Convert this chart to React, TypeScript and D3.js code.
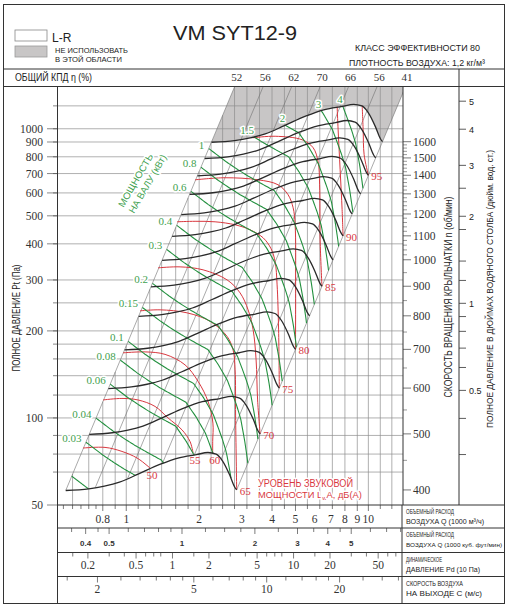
import React from 'react';
import * as d3 from 'd3';

const SERIF = '"Liberation Serif", "DejaVu Serif", serif';
const SANS = '"Liberation Sans", Arial, sans-serif';

// fan curve at 1600 rpm: air flow Q (1000 m3/h), total pressure Pt (Pa)
const baseRpm = 1600;
const baseQ = [2.25, 2.8, 3.25, 3.75, 4.5, 5.5, 6.6, 7.8, 8.7, 9.4, 10.0, 10.7, 11.2, 11.43];
const baseP = [898, 910, 930, 960, 1025, 1105, 1165, 1195, 1215, 1200, 1135, 1015, 925, 902];
const rpmCurves = [400, 500, 600, 700, 800, 900, 1000, 1100, 1200, 1300, 1400, 1500, 1600];

// system lines Pt = k * Q^2 and total efficiency on them
const effK = [178, 103.5, 60.2, 35, 20.4, 11.85, 6.9];
const effPct = [52, 56, 62, 70, 66, 56, 41];

// shaft power lines, kW
const powerKW = [0.02, 0.03, 0.04, 0.06, 0.08, 0.1, 0.15, 0.2, 0.3, 0.4, 0.6, 0.8, 1, 1.5, 2, 3, 4];
const powerLbl = ['', '0.03', '0.04', '0.06', '0.08', '0.1', '0.15', '0.2', '0.3', '0.4', '0.6', '0.8', '1', '1.5', '2', '3', '4'];

// sound power lines LwA, dB(A): [Q, Pt]
const soundDb = [50, 55, 60, 65, 70, 75, 80, 85, 90, 95];
const soundPts: [number, number][][] = [
  [[0.663, 78.7], [0.817, 79.1], [0.96, 76.6], [1.108, 72.7], [1.218, 68.5], [1.254, 67.1]],
  [[0.802, 115.4], [0.96, 116.8], [1.118, 115.4], [1.315, 109.6], [1.488, 100], [1.7, 90.9], [1.834, 82.9], [1.888, 75.7]],
  [[0.97, 167.9], [1.196, 169.2], [1.446, 165.9], [1.749, 152.6], [1.98, 133.8], [2.177, 114], [2.28, 96], [2.275, 83], [2.275, 75.5]],
  [[1.14, 234.6], [1.379, 236.5], [1.783, 230.9], [2.22, 215.8], [2.609, 191.4], [2.762, 171.9], [2.816, 146.6], [2.829, 101.6], [2.858, 56.4]],
  [[1.353, 330.4], [1.668, 333], [2.076, 325.2], [2.609, 300.2], [2.952, 270.7], [3.186, 236.5], [3.342, 201.6], [3.438, 158.7], [3.487, 115.4], [3.572, 88.1]],
  [[1.621, 476.7], [1.924, 478.6], [2.327, 476.7], [2.816, 465.5], [3.247, 447.3], [3.674, 419.8], [3.965, 384.5], [4.12, 346.6], [4.198, 288.5], [4.258, 201.6], [4.286, 126.8]],
  [[1.924, 666], [2.559, 677], [3.504, 666], [4.239, 640], [4.662, 591], [4.889, 533], [4.983, 465.5], [5.007, 288.5], [5.0, 172.6]],
  [[3.342, 931], [4.12, 942], [5.324, 916], [5.913, 860], [6.201, 769], [6.29, 640], [6.32, 413], [6.43, 285.4]],
  [[7.43, 1192], [7.5, 992], [7.645, 721], [7.79, 525], [7.86, 426]],
  [[9.43, 1201], [9.515, 992], [9.605, 813], [10.0, 690]],
];

// grid and axes
const gridP = [65, 75, 87, 100, 120, 140, 160, 180, 200, 250, 300, 400, 500, 600, 700, 800, 900, 1000, 1200];
const pLabels = [50, 100, 200, 300, 400, 500, 600, 700, 800, 900, 1000];
const gridQ = [0.6, 0.7, 0.8, 0.9, 1, 1.12, 1.25, 1.4, 1.6, 1.8, 2, 2.24, 2.5, 2.8, 3.15, 3.55, 4, 4.5, 5, 5.6, 6.3, 7.1, 8, 9, 10, 11.2, 12.5];
const qTicks = [0.55, 0.6, 0.65, 0.7, 0.75, 0.8, 0.9, 1, 1.12, 1.25, 1.4, 1.6, 1.8, 2, 2.24, 2.5, 2.8, 3.15, 3.55, 4, 4.5, 5, 5.6, 6.3, 7.1, 8, 9, 10, 11.2, 12.5];
const qLabels = [0.8, 1, 2, 3, 4, 5, 6, 7, 8, 9, 10];
const cfmTicks = [0.35, 0.4, 0.45, 0.5, 0.6, 0.7, 0.8, 0.9, 1, 1.25, 1.5, 1.75, 2, 2.5, 3, 3.5, 4, 4.5, 5, 6, 7, 8];
const cfmLabels = [0.4, 0.5, 1, 2, 3, 4, 5];
const pdTicks = [0.15, 0.2, 0.3, 0.4, 0.5, 0.6, 0.7, 0.8, 1, 1.5, 2, 3, 4, 5, 6, 7, 8, 10, 15, 20, 30, 40, 50, 60, 70];
const pdLabels = [0.2, 0.5, 1, 2, 5, 10, 20, 50];
const cTicks = [1.5, 2, 2.5, 3, 3.5, 4, 4.5, 5, 6, 7, 8, 9, 10, 12, 14, 16, 18, 20, 25, 30, 35];
const cLabels = [2, 5, 10, 20];
const rpmLabels = [400, 500, 600, 700, 800, 900, 1000, 1100, 1200, 1300, 1400, 1500, 1600];
const inchTicks = [0.3, 0.4, 0.5, 0.6, 0.7, 0.8, 0.9, 1, 1.2, 1.4, 1.8, 2, 2.5, 3, 4, 5];
const inchLabels = [0.5, 1, 2, 3, 4, 5];
const PA_PER_INCH = 249.09;
const CFM = 1.699; // 1000 m3/h in 1000 cfm
const C_PER_Q = 2.63; // outlet velocity m/s per 1000 m3/h

const L = 57.5, R = 403, T = 86.5, B = 505, P_TOP = 1400;
const GREEN = '#23903f', GREEN_T = '#3f9f4f', RED = '#d8383f', GRID = '#8e8e8e';

const lg = Math.log10;
type Pt = [number, number];

function locate(arr: number[], t: number): [number, number] {
  const n = arr.length;
  for (let i = 0; i < n - 1; i++) {
    const a = arr[i], b = arr[i + 1];
    if ((t - a) * (t - b) <= 0) return [i, (lg(t) - lg(a)) / (lg(b) - lg(a))];
  }
  return (t - arr[0]) * (arr[n - 1] - arr[0]) < 0 ? [0, 0] : [n - 2, 1];
}
function onBase(i: number, f: number): Pt {
  const q = lg(baseQ[i]) + f * (lg(baseQ[i + 1]) - lg(baseQ[i]));
  const p = lg(baseP[i]) + f * (lg(baseP[i + 1]) - lg(baseP[i]));
  return [10 ** q, 10 ** p];
}
const atRpm = (d: Pt, n: number): Pt => [d[0] * n / baseRpm, d[1] * (n / baseRpm) ** 2];

// shaft power at base speed from Q*Pt/eta
const effAt = d3.scaleLinear().domain(effK.map(lg)).range(effPct).clamp(true);
const baseW = baseQ.map((q, i) => (q / 3.6) * baseP[i] / (effAt(lg(baseP[i] / (q * q))) / 100));
const baseK = baseQ.map((q, i) => baseP[i] / (q * q));

function powerLine(kw: number): Pt[] {
  const w = kw * 1000;
  const nTop = Math.min(baseRpm, baseRpm * Math.cbrt(w / baseW[0]));
  const nBot = Math.max(rpmCurves[0], baseRpm * Math.cbrt(w / baseW[baseW.length - 1]));
  const pts: Pt[] = [];
  if (nBot >= nTop) return pts;
  for (let k = 0; k <= 80; k++) {
    const n = nTop - (nTop - nBot) * k / 80;
    const [i, f] = locate(baseW, w * (baseRpm / n) ** 3);
    pts.push(atRpm(onBase(i, f), n));
  }
  return pts;
}

export default function App() {
  const x = d3.scaleLog().domain([0.52, 13.9]).range([L, R]);
  const y = d3.scaleLog().domain([50, P_TOP]).range([B, T]);
  const xCfm = d3.scaleLog().domain([0.52 / CFM, 13.9 / CFM]).range([L, R]);
  const xC = d3.scaleLog().domain([0.52 * C_PER_Q, 13.9 * C_PER_Q]).range([L, R]);
  const xPd = d3.scaleLog().domain([0.06 * (0.52 * C_PER_Q) ** 2, 0.06 * (13.9 * C_PER_Q) ** 2]).range([L, R]);

  const line = d3.line<Pt>().x(d => x(d[0])).y(d => y(d[1]));
  const smooth = d3.line<Pt>().x(d => x(d[0])).y(d => y(d[1])).curve(d3.curveMonotoneX);
  const round = d3.line<Pt>().x(d => x(d[0])).y(d => y(d[1])).curve(d3.curveCatmullRom.alpha(0.5));

  const base: Pt[] = baseQ.map((q, i) => [q, baseP[i]]);
  const last = base.length - 1;
  const grayPoly: Pt[] = [
    [Math.sqrt(P_TOP / effK[0]), P_TOP],
    [Math.sqrt(P_TOP / effK[effK.length - 1]), P_TOP],
    ...base.slice().reverse(),
  ];
  const diags = effK.map(k => {
    const [i, f] = locate(baseK, k);
    return [atRpm(onBase(i, f), rpmCurves[0]), [Math.sqrt(P_TOP / k), P_TOP]] as Pt[];
  });
  const powers = powerKW.map(powerLine);
  const yRpm = (n: number) => y(baseP[last] * (n / baseRpm) ** 2);
  const rpmMinor = [...d3.range(450, 1000, 50), ...d3.range(1020, 1600, 20)].filter(n => n % 100 !== 0);

  const rows = [
    { y0: B, s: x, ticks: qTicks, labels: qLabels, ly: 523, font: SERIF, size: 11.5, t1: 'ОБЪЕМНЫЙ РАСХОД', t2: 'ВОЗДУХА Q (1000 м³/ч)', w1: 48, w2: 78, f2: 7.2 },
    { y0: 528, s: xCfm, ticks: cfmTicks, labels: cfmLabels, ly: 545.5, font: SANS, size: 8, t1: 'ОБЪЕМНЫЙ РАСХОД', t2: 'ВОЗДУХА Q (1000 куб. фут/мин)', w1: 48, w2: 96, f2: 6 },
    { y0: 552.5, s: xPd, ticks: pdTicks, labels: pdLabels, ly: 568.5, font: SERIF, size: 11.5, t1: 'ДИНАМИЧЕСКОЕ', t2: 'ДАВЛЕНИЕ Pd (10 Па)', w1: 36, w2: 74, f2: 7.2 },
    { y0: 576.5, s: xC, ticks: cTicks, labels: cLabels, ly: 593, font: SERIF, size: 11.5, t1: 'СКОРОСТЬ ВОЗДУХА', t2: 'НА ВЫХОДЕ С (м/с)', w1: 57, w2: 76, f2: 7.2 },
  ];

  const halo = { paintOrder: 'stroke', stroke: '#fff', strokeWidth: 3, strokeLinejoin: 'round' } as React.CSSProperties;

  return (
    <svg width={511} height={609} style={{ position: 'absolute', left: 0, top: 0, background: '#fff' }}>
      <defs>
        <clipPath id="plot"><rect x={L} y={T} width={R - L} height={B - T} /></clipPath>
      </defs>

      {/* header */}
      <rect x={15} y={30} width={32} height={11} fill="#fff" stroke="#888" strokeWidth={0.8} />
      <text x={52} y={42} fontFamily={SANS} fontSize={12} fill="#222">L-R</text>
      <rect x={15} y={46} width={32} height={11} fill="#c8c6c6" stroke="#999" strokeWidth={0.8} />
      <text x={55} y={52.5} fontFamily={SANS} fontSize={7} fill="#222" textLength={73} lengthAdjust="spacingAndGlyphs">НЕ ИСПОЛЬЗОВАТЬ</text>
      <text x={55} y={61.5} fontFamily={SANS} fontSize={7} fill="#222" textLength={67} lengthAdjust="spacingAndGlyphs">В ЭТОЙ ОБЛАСТИ</text>
      <text x={173} y={40} fontFamily={SANS} fontSize={20} fill="#222" textLength={124} lengthAdjust="spacingAndGlyphs">VM SYT12-9</text>
      <text x={355} y={51} fontFamily={SANS} fontSize={9} fill="#222" textLength={125} lengthAdjust="spacingAndGlyphs">КЛАСС ЭФФЕКТИВНОСТИ 80</text>
      <text x={349} y={66} fontFamily={SANS} fontSize={9} fill="#222" textLength={136} lengthAdjust="spacingAndGlyphs">ПЛОТНОСТЬ ВОЗДУХА: 1,2 кг/м³</text>
      <text x={15} y={81} fontFamily={SANS} fontSize={10} fill="#222" textLength={77} lengthAdjust="spacingAndGlyphs">ОБЩИЙ КПД η (%)</text>
      {effK.map((k, i) => (
        <text key={i} x={Math.min(x(Math.sqrt(P_TOP / k)) + 2, 407)} y={81} textAnchor="middle" fontFamily={SERIF} fontSize={11} fill="#333">{effPct[i]}</text>
      ))}

      {/* plot */}
      <g clipPath="url(#plot)">
        <path d={line(grayPoly) + 'Z'} fill="#c8c6c6" />
        {gridP.map(p => <line key={p} x1={L} x2={R} y1={y(p)} y2={y(p)} stroke={GRID} strokeWidth={0.7} />)}
        {gridQ.map(q => {
          const pTop = Math.min(P_TOP, effK[0] * q * q);
          return pTop > 50 ? <line key={q} x1={x(q)} x2={x(q)} y1={y(pTop)} y2={B} stroke={GRID} strokeWidth={0.7} /> : null;
        })}
        {diags.map((d, i) => <path key={i} d={line(d)!} stroke="#707070" strokeWidth={0.6} fill="none" />)}
        {soundPts.map((pts, i) => <path key={i} d={round(pts)!} stroke={RED} strokeWidth={1} fill="none" />)}
        {powers.map((pts, i) => pts.length ? <path key={i} d={line(pts)!} stroke={GREEN} strokeWidth={1.1} fill="none" /> : null)}
        {rpmCurves.map(n => <path key={n} d={smooth(base.map(d => atRpm(d, n)))!} stroke="#2a2a2a" strokeWidth={1.3} fill="none" />)}
      </g>

      {/* power labels */}
      {powers.map((pts, i) => {
        if (!pts.length || !powerLbl[i]) return null;
        const onTop = powerKW[i] * 1000 > baseW[0];
        const px = x(pts[0][0]), py = y(pts[0][1]);
        return (
          <text key={i} x={onTop ? px : px - 4.5} y={onTop ? py - 3 : py} textAnchor="end" fontFamily={SERIF} fontSize={11} fill={GREEN_T} style={halo}>{powerLbl[i]}</text>
        );
      })}
      {/* sound labels */}
      {soundPts.map((pts, i) => {
        const e = pts[pts.length - 1];
        const onRight = i >= 3;
        return (
          <text key={i} x={onRight ? x(e[0]) + 3 : x(e[0]) + 2} y={onRight ? y(e[1]) + 5 : y(e[1]) + 11} textAnchor={onRight ? 'start' : 'middle'} fontFamily={SERIF} fontSize={11} fill={RED}>{soundDb[i]}</text>
        );
      })}
      <g transform="translate(123.5,208) rotate(-60)" fontFamily={SANS} fontSize={9.5} fill={GREEN_T} style={halo}>
        <text x={0} y={0} textLength={60} lengthAdjust="spacingAndGlyphs">МОЩНОСТЬ</text>
        <text x={0} y={12} textLength={66} lengthAdjust="spacingAndGlyphs">НА ВАЛУ (кВт)</text>
      </g>
      <g fontFamily={SANS} fontSize={10} fill={RED} style={halo}>
        <text x={258} y={486.5} textLength={95} lengthAdjust="spacingAndGlyphs">УРОВЕНЬ ЗВУКОВОЙ</text>
        <text x={258} y={497.5} fontSize={9.3}>МОЩНОСТИ L<tspan fontSize={6} baselineShift="-2">w</tspan>A, дБ(A)</text>
      </g>

      {/* left axis */}
      {gridP.map(p => <line key={p} x1={53} x2={L} y1={y(p)} y2={y(p)} stroke="#555" strokeWidth={0.7} />)}
      {pLabels.map(p => (
        <g key={p}>
          <line x1={47} x2={L} y1={y(p)} y2={y(p)} stroke="#555" strokeWidth={0.7} />
          <text x={43} y={y(p) + 4} textAnchor="end" fontFamily={SERIF} fontSize={11.5} fill="#333">{p}</text>
        </g>
      ))}
      <text transform={`translate(19.5,318) rotate(-90)`} textAnchor="middle" fontFamily={SANS} fontSize={10} fill="#222" textLength={107} lengthAdjust="spacingAndGlyphs">ПОЛНОЕ ДАВЛЕНИЕ Pt (Па)</text>

      {/* rpm axis */}
      {rpmMinor.map(n => <line key={n} x1={R} x2={407} y1={yRpm(n)} y2={yRpm(n)} stroke="#555" strokeWidth={0.6} />)}
      {rpmLabels.map(n => (
        <g key={n}>
          <line x1={R} x2={411} y1={yRpm(n)} y2={yRpm(n)} stroke="#555" strokeWidth={0.8} />
          <text x={413} y={yRpm(n) + 4} fontFamily={SERIF} fontSize={11.5} fill="#333">{n}</text>
        </g>
      ))}
      <text transform={`translate(452,297) rotate(-90)`} textAnchor="middle" fontFamily={SANS} fontSize={10} fill="#222" textLength={201} lengthAdjust="spacingAndGlyphs">СКОРОСТЬ ВРАЩЕНИЯ КРЫЛЬЧАТКИ  n (об/мин)</text>

      {/* inch axis */}
      {inchTicks.map(v => <line key={v} x1={459} x2={466} y1={y(v * PA_PER_INCH)} y2={y(v * PA_PER_INCH)} stroke="#333" strokeWidth={0.8} />)}
      {inchLabels.map(v => <text key={v} x={469} y={y(v * PA_PER_INCH) + 3.5} fontFamily={SANS} fontSize={9} fill="#222">{v}</text>)}
      <text transform={`translate(493,289) rotate(-90)`} textAnchor="middle" fontFamily={SANS} fontSize={9.5} fill="#222" textLength={278} lengthAdjust="spacingAndGlyphs">ПОЛНОЕ ДАВЛЕНИЕ В ДЮЙМАХ ВОДЯНОГО СТОЛБА (дюйм. вод. ст.)</text>

      {/* bottom scales */}
      {rows.map((r, j) => (
        <g key={j}>
          {r.ticks.map(v => <line key={v} x1={r.s(v)} x2={r.s(v)} y1={r.y0} y2={r.y0 + (r.labels.includes(v) ? 6 : 4)} stroke="#444" strokeWidth={0.7} />)}
          {r.labels.map(v => <text key={v} x={r.s(v)} y={r.ly} textAnchor="middle" fontFamily={r.font} fontSize={r.size} fontWeight={j === 1 ? 'bold' : 'normal'} fill="#333">{v}</text>)}
          <text x={406} y={r.y0 + 9} fontFamily={SANS} fontSize={7.2} fill="#222" textLength={r.w1} lengthAdjust="spacingAndGlyphs">{r.t1}</text>
          <text x={406} y={r.y0 + 19} fontFamily={SANS} fontSize={r.f2} fill="#222" textLength={r.w2} lengthAdjust="spacingAndGlyphs">{r.t2}</text>
        </g>
      ))}

      {/* frame */}
      <g stroke="#333" strokeWidth={1} fill="none">
        <rect x={3.5} y={4.5} width={501} height={599} />
        <line x1={3.5} x2={504.5} y1={69} y2={69} />
        <line x1={3.5} x2={504.5} y1={T} y2={T} />
        <line x1={L} x2={L} y1={T} y2={603.5} />
        <line x1={R} x2={R} y1={T} y2={B} />
        <line x1={459} x2={459} y1={69} y2={B} />
        <line x1={L} x2={504.5} y1={B} y2={B} />
        <line x1={L} x2={504.5} y1={528} y2={528} />
        <line x1={L} x2={504.5} y1={552.5} y2={552.5} />
        <line x1={L} x2={504.5} y1={576.5} y2={576.5} />
        <line x1={402} x2={402} y1={B} y2={603.5} />
      </g>
    </svg>
  );
}
